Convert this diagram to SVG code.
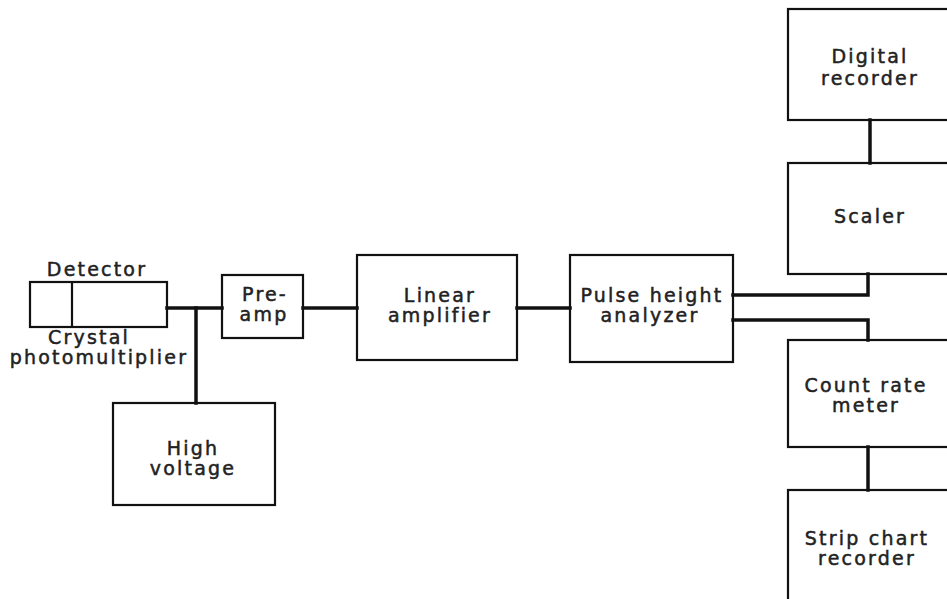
<svg xmlns="http://www.w3.org/2000/svg" width="947" height="599" viewBox="0 0 947 599">
<style>
.box{fill:none;stroke:#111;stroke-width:2.2}
.wire{fill:none;stroke:#111;stroke-width:3.5;stroke-linejoin:miter;stroke-linecap:square}
text{font-family:"DejaVu Sans",sans-serif;font-size:19px;letter-spacing:2.2px;fill:#222;text-anchor:middle;stroke:#222;stroke-width:0.5}
</style>
<rect width="947" height="599" fill="#fff"/>
<g id="connectors">
<path class="wire" d="M167 308H222"/>
<path class="wire" d="M196 308V403"/>
<path class="wire" d="M303 308H357"/>
<path class="wire" d="M517 308H570"/>
<path class="wire" d="M733 295H868V274"/>
<path class="wire" d="M733 320H868V340"/>
<path class="wire" d="M870 120V163"/>
<path class="wire" d="M868 447V490"/>
</g>
<g id="detector">
<rect class="box" x="30" y="282" width="137" height="45"/>
<line class="box" x1="72" y1="282" x2="72" y2="327"/>
<text x="97" y="276">Detector</text>
<text x="89" y="344">Crystal</text>
<text x="99" y="364">photomultiplier</text>
</g>
<g id="preamp">
<rect class="box" x="222" y="275" width="81" height="63"/>
<text x="265" y="301">Pre-</text>
<text x="264" y="321">amp</text>
</g>
<g id="high-voltage">
<rect class="box" x="113" y="403" width="162" height="102"/>
<text x="193" y="455">High</text>
<text x="193" y="475">voltage</text>
</g>
<g id="linear-amplifier">
<rect class="box" x="357" y="255" width="160" height="105"/>
<text x="440" y="302">Linear</text>
<text x="440" y="322">amplifier</text>
</g>
<g id="pulse-height-analyzer">
<rect class="box" x="570" y="255" width="163" height="107"/>
<text x="652" y="302">Pulse height</text>
<text x="650" y="322">analyzer</text>
</g>
<g id="digital-recorder">
<rect class="box" x="788" y="9" width="170" height="111"/>
<text x="870" y="63">Digital</text>
<text x="870" y="85">recorder</text>
</g>
<g id="scaler">
<rect class="box" x="788" y="163" width="170" height="111"/>
<text x="870" y="223">Scaler</text>
</g>
<g id="count-rate-meter">
<rect class="box" x="788" y="340" width="170" height="107"/>
<text x="866" y="392">Count rate</text>
<text x="866" y="412">meter</text>
</g>
<g id="strip-chart-recorder">
<rect class="box" x="788" y="490" width="170" height="120"/>
<text x="867" y="545">Strip chart</text>
<text x="867" y="565">recorder</text>
</g>
</svg>
